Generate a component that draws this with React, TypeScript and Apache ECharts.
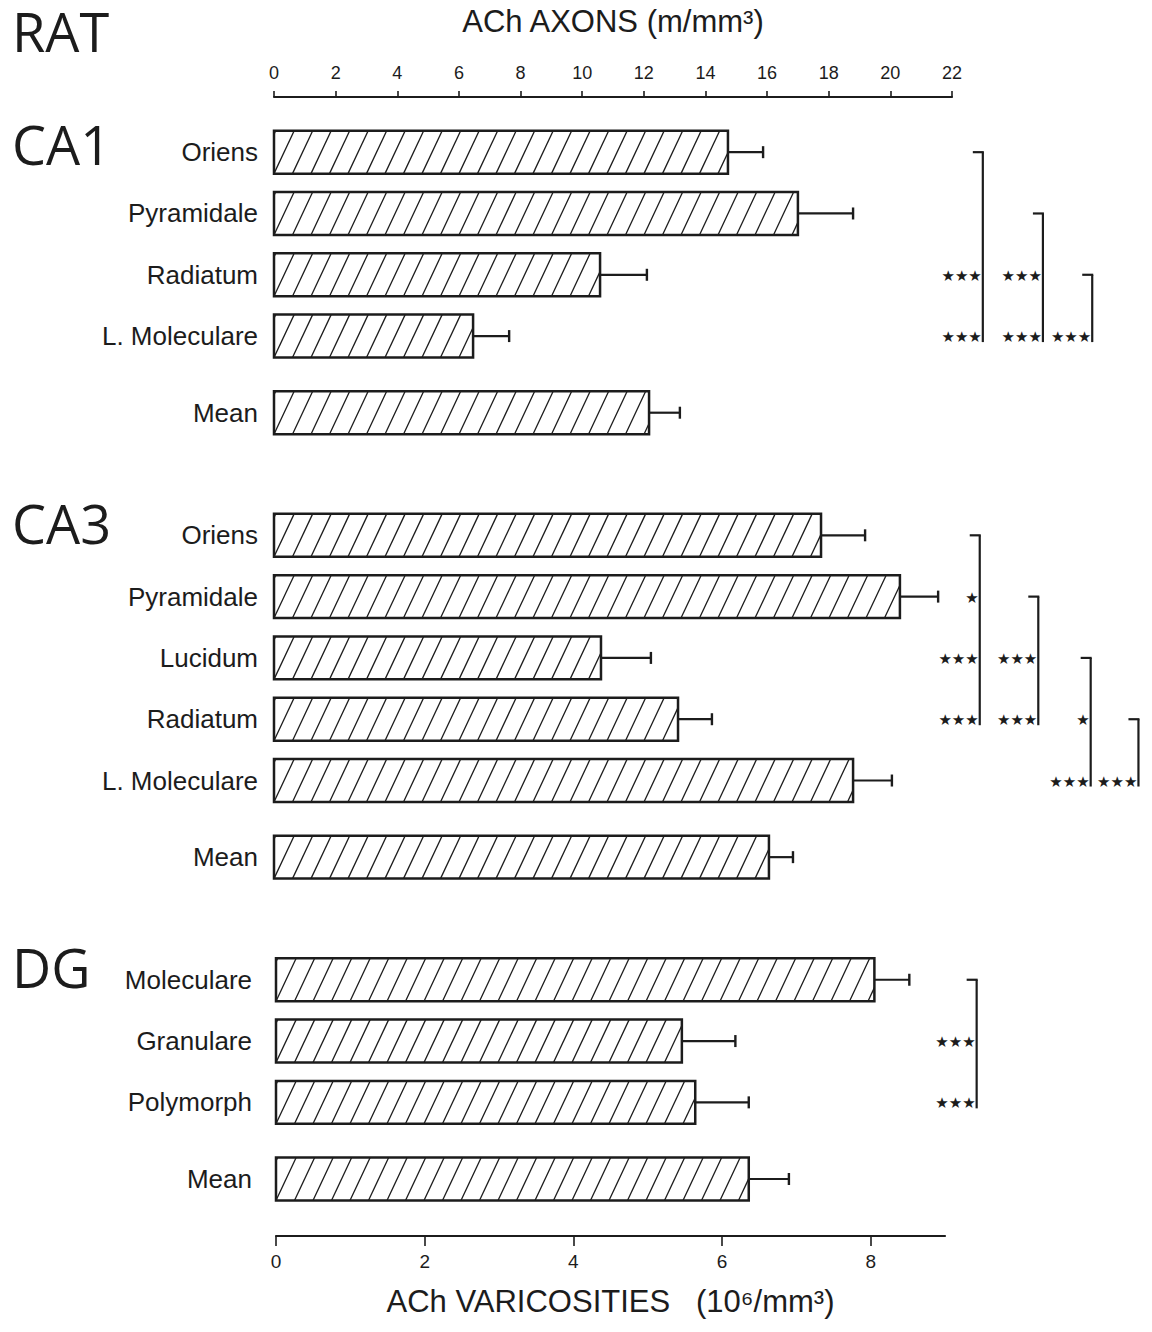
import React, { useEffect, useRef } from "react";
import * as echarts from "echarts";

// ---- data ----
const hippoLabels = ["Oriens", "Pyramidale", "Radiatum", "L. Moleculare", "Mean", "Oriens", "Pyramidale", "Lucidum", "Radiatum", "L. Moleculare", "Mean"];
const hippoRows = [0, 1, 2, 3, 4.25, 6.25, 7.25, 8.25, 9.25, 10.25, 11.5];
const axonMeans = [14.73, 17.0, 10.58, 6.46, 12.17, 17.75, 20.31, 10.61, 13.11, 18.79, 16.06];
const axonErrs = [1.14, 1.79, 1.52, 1.17, 1.0, 1.43, 1.24, 1.62, 1.1, 1.26, 0.78];

const dgLabels = ["Moleculare", "Granulare", "Polymorph", "Mean"];
const dgRows = [13.5, 14.5, 15.5, 16.75];
const varicMeans = [8.05, 5.46, 5.64, 6.36];
const varicErrs = [0.47, 0.72, 0.72, 0.54];

const axonTicks = [0, 22, 2]; // min, max, interval
const varicTicks = [0, 9, 2];
const varicTickValues = [0, 2, 4, 6, 8];

// brackets: [x (axon units), top row, bottom row]
const brackets = [
  [23.0, 0, 3], [24.95, 1, 3], [26.55, 2, 3],
  [22.9, 6.25, 9.25], [24.8, 7.25, 9.25], [26.5, 8.25, 10.25], [28.05, 9.25, 10.25],
  [22.8, 13.5, 15.5],
];
// significance marks: [x, row, count of stars]
const stars = [
  [23.0, 2, 3], [23.0, 3, 3], [24.95, 2, 3], [24.95, 3, 3], [26.55, 3, 3],
  [22.9, 7.25, 1], [22.9, 8.25, 3], [22.9, 9.25, 3], [24.8, 8.25, 3], [24.8, 9.25, 3],
  [26.5, 9.25, 1], [26.5, 10.25, 3], [28.05, 10.25, 3],
  [22.8, 14.5, 3], [22.8, 15.5, 3],
];
const sectionTitles = ["RAT", "CA1", "CA3", "DG"];
const sectionRows = [-1.98, -0.13, 6.05, 13.3];

const INK = "#1c1c1c";
const SANS = '"Liberation Sans", Arial, Helvetica, sans-serif';

function barRenderer(labels: string[], gap: number) {
  return (params: any, api: any) => {
    const v = api.value(0);
    const row = api.value(1);
    const err = api.value(2);
    const p0 = api.coord([0, row]);
    const p1 = api.coord([v, row]);
    const pe = api.coord([v + err, row]);
    const h = api.size([0, 0.7])[1];
    const x0 = p0[0], x1 = p1[0];
    const yT = p0[1] - h / 2, yB = p0[1] + h / 2;
    const children: any[] = [];
    children.push({ type: "rect", shape: { x: x0, y: yT, width: x1 - x0, height: h }, style: { fill: "#fff", stroke: "none" } });
    // hatching
    const dx = h * 0.47;
    const sp = 18.5;
    let c = x0;
    while (c + dx > x0) c -= sp;
    for (; c < x1; c += sp) {
      let ax = c, ay = yB, bx = c + dx, by = yT;
      if (ax < x0) { const t = (x0 - c) / dx; ax = x0; ay = yB - t * h; }
      if (bx > x1) { const t = (x1 - c) / dx; bx = x1; by = yB - t * h; }
      if (bx <= ax) continue;
      children.push({ type: "line", shape: { x1: ax, y1: ay, x2: bx, y2: by }, style: { stroke: INK, lineWidth: 1.3 } });
    }
    children.push({ type: "rect", shape: { x: x0, y: yT, width: x1 - x0, height: h }, style: { fill: "none", stroke: INK, lineWidth: 2.5 } });
    // error bar
    children.push({ type: "line", shape: { x1: x1, y1: p0[1], x2: pe[0], y2: p0[1] }, style: { stroke: INK, lineWidth: 2.2 } });
    children.push({ type: "line", shape: { x1: pe[0], y1: p0[1] - 6, x2: pe[0], y2: p0[1] + 6 }, style: { stroke: INK, lineWidth: 2.4 } });
    // label
    children.push({
      type: "text",
      style: { text: labels[params.dataIndex], x: x0 - gap, y: p0[1], align: "right", verticalAlign: "middle", fontSize: 26, fontFamily: SANS, fill: INK },
    });
    return { type: "group", children };
  };
}

export default function App() {
  const ref = useRef<HTMLDivElement>(null);
  useEffect(() => {
    document.body.style.margin = "0";
    const chart = echarts.init(ref.current!, null, { renderer: "svg" });
    const yMin = -0.9, yMax = 17.68;
    const yAxisBase = { type: "value", min: yMin, max: yMax, inverse: true, show: false };
    const option: any = {
      animation: false,
      backgroundColor: "#ffffff",
      grid: [
        { left: 274, right: 200, top: 97, bottom: 96 },
        { left: 276, right: 207, top: 97, bottom: 96 },
      ],
      xAxis: [
        {
          type: "value", gridIndex: 0, position: "top", min: axonTicks[0], max: axonTicks[1], interval: axonTicks[2],
          name: "ACh AXONS (m/mm³)", nameLocation: "middle", nameGap: 60,
          nameTextStyle: { fontSize: 31, fontFamily: SANS, color: INK },
          axisLine: { show: true, onZero: false, lineStyle: { color: INK, width: 2.2 } },
          axisTick: { show: true, length: 6, lineStyle: { color: INK, width: 1.6 } },
          axisLabel: { fontSize: 18, fontFamily: SANS, color: INK, margin: 15 },
          splitLine: { show: false },
        },
        {
          type: "value", gridIndex: 1, position: "bottom", min: varicTicks[0], max: varicTicks[1], interval: varicTicks[2],
          name: "ACh VARICOSITIES   (10⁶/mm³)", nameLocation: "middle", nameGap: 50,
          nameTextStyle: { fontSize: 31, fontFamily: SANS, color: INK },
          axisLine: { show: true, onZero: false, lineStyle: { color: INK, width: 2.2 } },
          axisTick: { show: true, length: 10, customValues: varicTickValues, lineStyle: { color: INK, width: 1.6 } },
          axisLabel: { fontSize: 19, fontFamily: SANS, color: INK, margin: 16, customValues: varicTickValues },
          splitLine: { show: false },
        },
      ],
      yAxis: [
        { ...yAxisBase, gridIndex: 0 },
        { ...yAxisBase, gridIndex: 1 },
      ],
      series: [
        {
          type: "custom", name: "axons", xAxisIndex: 0, yAxisIndex: 0, clip: false,
          data: axonMeans.map((v, i) => [v, hippoRows[i], axonErrs[i]]),
          renderItem: barRenderer(hippoLabels, 16),
        },
        {
          type: "custom", name: "varicosities", xAxisIndex: 1, yAxisIndex: 1, clip: false,
          data: varicMeans.map((v, i) => [v, dgRows[i], varicErrs[i]]),
          renderItem: barRenderer(dgLabels, 24),
        },
        {
          type: "custom", name: "brackets", xAxisIndex: 0, yAxisIndex: 0, clip: false,
          data: brackets,
          renderItem: (params: any, api: any) => {
            const pt = api.coord([api.value(0), api.value(1)]);
            const pb = api.coord([api.value(0), api.value(2)]);
            return {
              type: "group",
              children: [
                { type: "line", shape: { x1: pt[0], y1: pt[1], x2: pb[0], y2: pb[1] + 6 }, style: { stroke: INK, lineWidth: 2.2 } },
                { type: "line", shape: { x1: pt[0] - 10, y1: pt[1], x2: pt[0] + 1, y2: pt[1] }, style: { stroke: INK, lineWidth: 2.2 } },
              ],
            };
          },
        },
        {
          type: "custom", name: "significance", xAxisIndex: 0, yAxisIndex: 0, clip: false,
          data: stars,
          renderItem: (params: any, api: any) => {
            const p = api.coord([api.value(0), api.value(1)]);
            return {
              type: "text",
              style: { text: "★".repeat(api.value(2)), x: p[0] - 1, y: p[1] + 1, align: "right", verticalAlign: "middle", fontSize: 15, fontFamily: '"DejaVu Sans", sans-serif', fill: INK },
            };
          },
        },
        {
          type: "custom", name: "sections", xAxisIndex: 0, yAxisIndex: 0, clip: false,
          data: sectionRows.map((r, i) => [0, r, i]),
          renderItem: (params: any, api: any) => {
            const p = api.coord([0, api.value(1)]);
            return {
              type: "text",
              style: { text: sectionTitles[params.dataIndex], x: 12, y: p[1], align: "left", verticalAlign: "middle", fontSize: 54, fontFamily: '"Open Sans", sans-serif', fill: INK },
            };
          },
        },
      ],
    };
    chart.setOption(option);
    return () => chart.dispose();
  }, []);
  return <div ref={ref} style={{ position: "absolute", left: 0, top: 0, width: 1152, height: 1332 }} />;
}
